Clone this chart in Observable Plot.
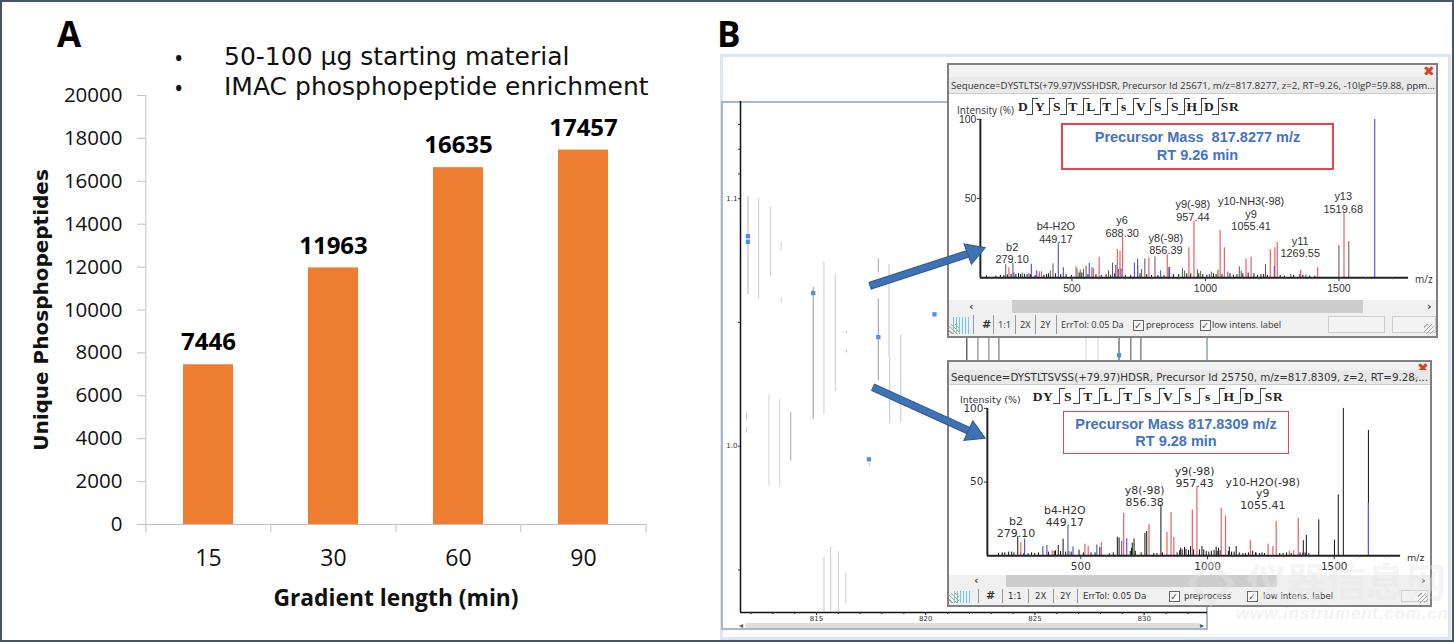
<!DOCTYPE html>
<html><head><meta charset="utf-8">
<script src="https://cdn.jsdelivr.net/npm/d3@7"></script>
<script src="https://cdn.jsdelivr.net/npm/@observablehq/plot@0.6"></script>
<style>
html,body{margin:0;padding:0;background:#fff;overflow:hidden}
#page{position:relative;width:1454px;height:642px;overflow:hidden;background:#fff;font-family:"Liberation Sans",sans-serif}
#page div{position:absolute;box-sizing:border-box;white-space:pre}
svg{display:block}
</style></head><body><div id="page"></div>
<script>
// ---------- Panel A ----------
const gradientLabels = ["15","30","60","90"];
const phosphopeptides = [7446,11963,16635,17457];
const countTicks = [0,2000,4000,6000,8000,10000,12000,14000,16000,18000,20000];

// ---------- Panel B : ion map ----------
const streakMz   = [811.86,812.35,812.89,813.38,813.38,814.85,815.34,815.86,816.37,816.37,817.83,817.83,818.32,818.35,818.86,811.8,811.8,812.82,813.31,813.82,815.34,815.65,816,816.34,817.42,821.88,822.39,822.89,823.35,827.34,827.89,828.85,829.39,829.85];
const streakLow  = [1.0613,1.0594,1.0685,1.0787,1.0578,1.011,1.0129,1.0221,1.0454,1.0377,1.07,1.0266,1.0358,1.0091,1.0099,1.0107,1.0053,0.9836,0.9836,0.9939,0.933,0.933,0.933,0.9364,0.9916,1.03,1.03,1.03,1.03,1.03,1.03,1.03,1.03,1.03];
const streakHigh = [1.1008,1.1,1.0967,1.0822,1.0601,1.0642,1.0746,1.0697,1.0464,1.0388,1.0758,1.0594,1.0734,1.0358,1.0449,1.0137,1.0076,1.021,1.019,1.0137,0.9551,0.9592,0.9574,0.9486,0.9932,1.05,1.05,1.05,1.05,1.05,1.05,1.05,1.05,1.05];
const streakGrey = ["#c4c4c4","#d4d4d4","#d4d4d4","#d4d4d4","#d4d4d4","#a8a8a8","#d4d4d4","#d4d4d4","#c4c4c4","#c4c4c4","#b4b4b4","#a8a8a8","#cfcfcf","#cfcfcf","#cfcfcf","#d4d4d4","#d4d4d4","#dadada","#dadada","#b8b8b8","#d4d4d4","#d4d4d4","#d4d4d4","#d4d4d4","#d4d4d4","#444","#888","#888","#777","#ddd","#ddd","#555","#666","#666"];
const featureMz  = [811.86,811.86,814.85,817.83,820.4,817.4,828.85];
const featureVal = [1.0849,1.0826,1.0619,1.0441,1.0533,0.9947,1.0368];
const mapXTicks  = [815,820,825,830];
const mapXMinor  = [812,813,814,815,816,817,818,819,820,821,822,823,824,825,826,827,828,829,830,831,832];
const mapYTicks  = [1.13,1.12,1.11,1.1,1.05,1.0,0.95];
const arrowFromMz = [817.43,817.57];
const arrowFromV  = [1.0648,1.0239];
const arrowHeadMz = [822.19,822.21];
const arrowHeadV  = [1.0785,1.0053];
const arrowTurn   = [70,114.5];

// ---------- Spectrum 1 ----------
const s1RedMz  = [264,378,386,515,581,602,670,680,690,788,857,938,957,1055,1071,1152,1171,1243,1260,1269,1357,1420,1519];
const s1RedInt = [6.3,3.8,3.8,6.9,5.7,13,17.8,16.8,25.6,12.4,14.5,18.9,35.6,29.8,18.9,11.9,13,17.8,18.9,22.2,4.8,6.3,40.5];
const s1BlueMz  = [283,348,368,449,468,565,664,684,734,746,832,863,1015,1258,1353,1376,1634];
const s1BlueInt = [3.1,8.6,4.4,21.6,6.3,9.2,7.8,5.7,9.2,7.8,4.4,6.5,2.1,7.1,2.1,1.7,100];
const s1BlackMz  = [252,279,314,339,419,429,519,531,543,553,575,637,652,674,746,761,773,811,866,914,922,970,982,1022,1047,1084,1127,1134,1225,1320,1500,1537];
const s1BlackInt = [8.2,9,2.9,2.5,4.2,8.8,5.7,4.8,5.2,7.3,6.3,4.4,9.2,5.2,11.9,5.2,11.9,13.2,6.5,5.9,4.2,5,4,3.6,4.8,3.6,6.9,4,8.2,2.1,20.3,22.8];
const s1NoiseMz  = [180,215,232,245,258,272,290,300,308,322,332,345,362,378,395,405,412,438,458,478,498,527,537,560,590,610,628,645,660,700,720,755,780,798,822,845,880,900,930,945,975,990,1005,1030,1040,1062,1092,1105,1118,1140,1160,1182,1195,1208,1218,1232,1280,1296,1330,1365,1390,1410];
const s1NoiseInt = [1.2,1,1.5,1.5,1.8,2,2,2.5,2,2.2,2,2,1.5,1.8,1.5,2,2.5,2.5,2,2,1.5,3,3,2,2,1.5,2,1.5,2.5,1.5,1.5,2.5,2,1.5,1.5,1.5,2,2,2.5,2.5,2.5,2,1.5,2.5,2,2,2.5,1.5,2,2.5,3,2.5,1.5,2,2,1.5,1.5,1,1.5,1.5,1,1];
const s1LabelMz   = [276,440,688,852,953,1171,1355,1516];
const s1LabelInt  = [9,22,25.8,14.7,36,30,12.8,40.9];
const s1LabelText = ["b2\n279.10","b4-H2O\n449.17","y6\n688.30","y8(-98)\n856.39","y9(-98)\n957.44","y10-NH3(-98)\ny9\n1055.41","y11\n1269.55","y13\n1519.68"];

// ---------- Spectrum 2 ----------
const s2RedMz  = [263,387,516,529,581,669,769,840,856,867,940,958,1054,1071,1169,1239,1258,1271,1358,1323,1340];
const s2RedInt = [9,3.4,7.9,6.3,9,28.9,21.4,16,29.3,12.4,31.1,46.9,32.3,27.1,10.6,7.9,6.3,23.2,25.5,2.9,3.4];
const s2BlueMz  = [278,350,366,449,469,563,661,681,453,1375,1635];
const s2BlueInt = [11.3,6.3,7,19.9,5.9,7.4,9.7,11.5,2.9,1.8,35.7];
const s2BlackMz  = [251,227,411,430,400,493,575,644,651,703,710,753,760,816,894,909,933,978,1034,1043,1086,1113,1191,1378,1390,1439,1501,1516,1536,1635];
const s2BlackInt = [13,2.5,7,11.3,3.4,3.8,5.6,12.6,12,8.6,11.3,15.3,16.5,34.5,5.2,5.6,6.3,6.3,5.9,5.2,5.9,6.3,1.8,10.2,13.8,24.4,10.6,41.3,100,85.1];
const s2NoiseMz  = [175,190,200,215,236,262,275,292,305,318,333,372,395,420,440,462,510,540,556,612,628,695,700,715,738,788,800,822,880,890,900,915,925,945,968,985,995,1005,1015,1026,1038,1050,1082,1095,1105,1125,1140,1150,1162,1178,1190,1205,1215,1225,1285,1298,1312,1330,1365,1385,1400];
const s2NoiseInt = [1.5,2,2,2.5,2,2,1.5,1.5,2,1.5,2,2.5,3,3,2.5,2.5,2,2,2,1.5,2,3,5,3,2,1.5,1.5,2,2,3.5,4,4.5,3.5,4,4,4,3,2.5,3,3.5,3,3.5,3,2.5,2.5,2,1.5,1.5,2,3,2,1.5,2,1.5,1.5,1.5,2,1.5,2,2,1.5];
const s2LabelMz   = [244,437,752,949,1218];
const s2LabelInt  = [13,20.3,34,47,32];
const s2LabelText = ["b2\n279.10","b4-H2O\n449.17","y8(-98)\n856.38","y9(-98)\n957.43","y10-H2O(-98)\ny9\n1055.41"];

const mzTicks = [500,1000,1500];
const mzMinor = [200,300,400,600,700,800,900,1100,1200,1300,1400,1600,1700];

const page = document.getElementById("page");
function el(l,t,w,h,css,text,parent){
  const d=document.createElement("div");
  d.style.cssText=`left:${l}px;top:${t}px;`+(w!=null?`width:${w}px;`:"")+(h!=null?`height:${h}px;`:"")+(css||"");
  if(text!=null)d.textContent=text;
  (parent||page).appendChild(d);return d;
}
function place(plot,l,t,z){const d=el(l,t,null,null,z?`z-index:${z};`:"");d.appendChild(plot);return d;}

// ---------- Panel A chart ----------
const bandStep = 501/4;
const cats = gradientLabels.map((g,i)=>({g,v:phosphopeptides[i]}));
const chartA = Plot.plot({
  width:700,height:642,marginLeft:145,marginRight:54,marginTop:95,marginBottom:118,
  style:{fontFamily:"Open Sans",fontSize:"20.5px",background:"transparent",overflow:"visible"},
  x:{type:"band",domain:gradientLabels,paddingInner:0.6,paddingOuter:0.3,label:null},
  y:{domain:[0,20000],label:null},
  marks:[
    Plot.barY(cats,{x:"g",y:"v",fill:"#ed7d31"}),
    Plot.ruleY([0],{stroke:"#bfbfbf"}),
    Plot.ruleX(gradientLabels.slice(0,1),{x:d=>d,dx:-bandStep/2,y1:0,y2:20000,stroke:"#bfbfbf"}),
    Plot.ruleX(gradientLabels,{x:d=>d,dx:-bandStep/2,y1:0,y2:-373,stroke:"#bfbfbf"}),
    Plot.ruleX(gradientLabels.slice(-1),{x:d=>d,dx:bandStep/2,y1:0,y2:-373,stroke:"#bfbfbf"}),
    Plot.axisY({ticks:countTicks,tickSize:8,tickPadding:15,stroke:"#bfbfbf",color:"#111",strokeOpacity:1,tickFormat:d=>String(d),label:null,fill:"#111"}),
    Plot.axisX({tickSize:0,tickPadding:25,color:"#111",label:null,fontSize:23}),
    Plot.text(cats,{x:"g",y:"v",text:d=>String(d.v),dy:-22,fontWeight:"bold",fontSize:24,fill:"#000"})
  ]
});
place(chartA,0,0);
el(57,14,null,null,'font:bold 35px/40px "Open Sans";color:#000',"A");
el(717,14,null,null,'font:bold 35px/40px "Open Sans";color:#000',"B");
el(174,39,null,null,'font:25px/36px "Open Sans";color:#111',"•");
el(174,69,null,null,'font:25px/36px "Open Sans";color:#111',"•");
el(224,39,null,null,'font:25px/36px "DejaVu Sans";color:#111',"50-100 µg starting material");
el(224,69,null,null,'font:25px/36px "DejaVu Sans";color:#111',"IMAC phosphopeptide enrichment");
el(41,310,null,null,'font:bold 20px/24px "DejaVu Sans";color:#111;transform:translate(-50%,-50%) rotate(-90deg)',"Unique Phosphopeptides");
el(396,598,null,null,'font:bold 22.8px/28px "Open Sans";color:#111;transform:translate(-50%,-50%)',"Gradient length (min)");

// ---------- Panel B frame ----------
el(720,54,731,586,"border:3px solid #dce6f0;background:#fff");
el(721,101,487,529,"border:2px solid #a9b8c6;background:#fff");

// ---------- Ion map ----------
const mapW=487,mapH=529,mapML=19,mapMR=1,mapMT=0,mapMB=18;
const mapDomX=[811.52,832.9],mapDomY=[0.9328,1.1393];
const mapX={domain:mapDomX,label:null},mapY={domain:mapDomY,label:null};
const streaks=streakMz.map((m,i)=>({m,a:streakLow[i],b:streakHigh[i],g:streakGrey[i]}));
const features=featureMz.map((m,i)=>({m,v:featureVal[i]}));
const mapChart=Plot.plot({
  width:mapW,height:mapH,marginLeft:mapML,marginRight:mapMR,marginTop:mapMT,marginBottom:mapMB,
  style:{fontFamily:"DejaVu Sans",fontSize:"7px",background:"transparent",overflow:"visible"},
  x:mapX,y:mapY,
  marks:[
    Plot.ruleX(streaks,{x:"m",y1:"a",y2:"b",stroke:"g",strokeWidth:1.2}),
    Plot.dot(features,{x:"m",y:"v",symbol:"square",r:2.4,fill:"#4a90e8"}),
    Plot.ruleY([mapDomY[0]],{stroke:"#111",strokeWidth:1.5}),
    Plot.ruleX([mapDomX[0]],{stroke:"#111",strokeWidth:1.5}),
    Plot.axisX({ticks:mapXMinor,tickSize:2,tickFormat:()=>"",color:"#222",label:null}),
    Plot.axisX({ticks:mapXTicks,tickSize:3,tickPadding:1,tickFormat:d=>String(d),color:"#333",label:null}),
    Plot.axisY({ticks:mapYTicks,tickSize:2,tickPadding:1,tickFormat:d=>(d===1.1||d===1)?d.toFixed(1):"",color:"#333",label:null})
  ]
});
place(mapChart,721,101);
// map scrollbar
el(745,623,455,5,"background:#dcdcdc;border-radius:2px");
el(739,621,null,null,'font:8px/9px "DejaVu Sans";color:#555',"◂");
el(1200,621,null,null,'font:8px/9px "DejaVu Sans";color:#555',"▸");

// ---------- Spectrum windows ----------
function spectrum(o){
  const W=o.right-o.left, H=o.plotBottom-o.plotTop;
  const win=el(o.left,o.top,W,o.bottom-o.top,"border:2px solid #808080;background:#fff;z-index:3");
  const ox=o.left+2, oy=o.top+2, G=(l,t,w,h,c,tx)=>el(l-ox,t-oy,w,h,c,tx,win);
  G(ox,oy,W-4,o.titleH,"background:#f2f2f2");
  G(o.right-15,o.top+1,null,null,'font:bold 14px/14px "DejaVu Sans";color:#d8431e',"✖");
  G(ox,o.seqTop,W-4,o.seqH,"background:#e9e9e9;border-bottom:1px solid #ccc");
  G(ox+2,o.seqTop,null,o.seqH,`font:${o.seqFont};line-height:${o.seqH}px;color:#333`,o.seq);
  G(o.right-22,o.seqTop,null,o.seqH,`font:9px/${o.seqH}px "DejaVu Sans";color:#666;transform:scaleX(1.4)`,"⌵");
  G(o.intensityX,o.intensityY,null,null,`font:${o.smallFont};line-height:13px;color:#333`,"Intensity (%)");
  o.residues.forEach((r,i)=>G(o.residueX[i],o.residueY,null,null,'font:bold 13.5px/16px "Liberation Serif";color:#222;letter-spacing:.5px;transform:translateX(-50%)',r));
  o.cutX.forEach(x=>{
    G(x,o.residueY-1,1,o.cutH,"background:#444");
    G(x,o.residueY-1,6,1,"background:#444");
    G(x-6,o.residueY-1+o.cutH-1,6,1,"background:#444");
  });
  G(o.box[0],o.box[1],o.box[2]-o.box[0],o.box[3]-o.box[1],`border:${o.boxBorder} solid #e8434f`);
  o.boxLines.forEach((t,i)=>G((o.box[0]+o.box[2])/2,o.boxY[i],null,null,'font:bold 14.5px/18px "Liberation Sans";color:#4472c4;transform:translateX(-50%)',t));
  // toolbar
  G(ox,o.scrollTop,W-4,o.bottom-o.scrollTop-2,"background:#f0f0f0");
  G(o.thumb[0],o.scrollTop,o.thumb[1]-o.thumb[0],o.scrollH,"background:#cdcdcd");
  G(o.arrowL,o.scrollTop,null,o.scrollH,`font:bold 11px/${o.scrollH}px "DejaVu Sans";color:#444`,"‹");
  G(o.arrowR,o.scrollTop,null,o.scrollH,`font:bold 11px/${o.scrollH}px "DejaVu Sans";color:#444`,"›");
  const ty=o.scrollTop+o.scrollH, th=o.bottom-2-ty;
  G(o.icon,ty+4,18,th-6,"background:repeating-linear-gradient(90deg,#7cc4dd 0 1px,#e8f4f8 1px 3px)");
  o.seps.forEach(x=>G(x,ty+2,1,th-4,"background:#999"));
  o.tools.forEach(([x,t,f])=>G(x,ty,null,th,`font:${f||o.toolFont};line-height:${th}px;color:#333`,t));
  o.checks.forEach(x=>{
    G(x,ty+th/2-5,11,11,"border:1px solid #666;background:#fff");
    G(x+1,ty+th/2-5,null,null,'font:10px/11px "DejaVu Sans";color:#555',"✓");
  });
  o.inputs.forEach(([a,b])=>G(a,ty+3,b-a,th-6,"border:1px solid #ccc;background:#f4f4f4"));
  G(o.right-14,o.bottom-14,10,10,"background:repeating-linear-gradient(135deg,transparent 0 2px,#aaa 2px 3px)");
  G(ox,o.bottom-14,10,10,"background:repeating-linear-gradient(45deg,transparent 0 2px,#aaa 2px 3px)");

  const rows=(m,v,c,sw)=>m.map((x,i)=>({x,y:v[i],c,sw}));
  const peaks=[...rows(o.noise[0],o.noise[1],"#111",1),...rows(o.black[0],o.black[1],o.blackColor,1),...rows(o.red[0],o.red[1],"#ea5f66",1.2),...rows(o.blue[0],o.blue[1],"#5a5ad8",1.2)];
  const labels=o.labels[0].map((x,i)=>({x,y:o.labels[1][i],t:o.labels[2][i]}));
  const chart=Plot.plot({
    width:W,height:H,marginLeft:o.axisX0-o.left,marginRight:o.right-o.axisX1,marginTop:o.y100-o.plotTop,marginBottom:o.plotBottom-o.y0,
    style:{fontFamily:o.labelFamily,fontSize:o.tickFontSize,background:"transparent",overflow:"visible"},
    x:{domain:o.domain,label:null},y:{domain:[0,100],label:null},
    marks:[
      Plot.ruleX(peaks,{x:"x",y1:0,y2:"y",stroke:"c",strokeWidth:"sw"}),
      Plot.ruleY([0],{stroke:"#222",strokeWidth:2}),
      Plot.ruleX([o.domain[0]],{y1:0,y2:100,stroke:"#222",strokeWidth:2}),
      Plot.axisX({ticks:mzMinor,tickSize:2,tickFormat:()=>"",color:"#555",label:null}),
      Plot.axisX({ticks:mzTicks,tickSize:4,tickPadding:3,tickFormat:d=>String(d),color:"#333",label:null}),
      Plot.axisY({ticks:[50,100],tickSize:3,tickPadding:1,tickFormat:d=>String(d),color:"#333",label:null}),
      Plot.text(labels,{x:"x",y:"y",text:"t",lineAnchor:"bottom",lineHeight:o.labelLine,fill:"#333",fontSize:o.labelSize,fontFamily:o.labelFamily})
    ]
  });
  const holder=G(o.left,o.plotTop,null,null,"");
  holder.appendChild(chart);
  G(o.axisX1+5,o.y0-5,null,null,`font:${o.smallFont};line-height:13px;color:#333`,"m/z");
}

spectrum({
  left:947,right:1438,top:63,bottom:338,titleH:12,seqTop:77,seqH:17,
  seq:"Sequence=DYSTLTS(+79.97)VSSHDSR, Precursor Id 25671, m/z=817.8277, z=2, RT=9.26, -10lgP=59.88, ppm...",
  seqFont:'9.7px "Open Sans"',smallFont:'10px "Open Sans"',toolFont:'9.2px "Open Sans"',boxBorder:"2px",
  intensityX:957,intensityY:104,
  residues:["D","Y","S","T","L","T","s","V","S","S","H","D","SR"],
  residueX:[1023,1040,1057,1073,1091,1107,1124,1141,1158,1175,1192,1209,1230],residueY:99,
  cutX:[1032,1049,1066,1083,1100,1117,1133,1150,1167,1184,1201,1218],cutH:17,
  box:[1061,123,1334,170],boxLines:["Precursor Mass  817.8277 m/z","RT 9.26 min"],boxY:[128,146],
  plotTop:94,plotBottom:300,y100:119,y0:278,axisX0:980,axisX1:1410,domain:[157,1761],
  tickFontSize:"10.5px",labelFamily:"Liberation Sans",labelSize:11,labelLine:1.15,blackColor:"#555",
  scrollTop:300,scrollH:13,thumb:[1012,1363],arrowL:969,arrowR:1427,
  icon:953,seps:[973,993,1015,1035,1056],
  tools:[[982,"#",'bold 11px "DejaVu Sans"'],[998,"1:1"],[1020,"2X"],[1040,"2Y"],[1061,"ErrTol: 0.05 Da"],[1146,"preprocess"],[1212,"low intens. label"]],
  checks:[1133,1200],inputs:[[1328,1385],[1392,1436]],
  red:[s1RedMz,s1RedInt],blue:[s1BlueMz,s1BlueInt],black:[s1BlackMz,s1BlackInt],noise:[s1NoiseMz,s1NoiseInt],
  labels:[s1LabelMz,s1LabelInt,s1LabelText]
});
spectrum({
  left:947,right:1432,top:360,bottom:607,titleH:9,seqTop:370,seqH:15,
  seq:"Sequence=DYSTLTSVSS(+79.97)HDSR, Precursor Id 25750, m/z=817.8309, z=2, RT=9.28,...",
  seqFont:'10.3px "DejaVu Sans"',smallFont:'9.5px "DejaVu Sans"',toolFont:'8.6px "DejaVu Sans"',boxBorder:"1px",
  intensityX:960,intensityY:393,
  residues:["DY","S","T","L","T","S","V","S","s","H","D","SR"],
  residueX:[1043,1068,1088,1108,1128,1148,1168,1188,1208,1229,1249,1274],residueY:389,
  cutX:[1059,1079,1099,1119,1139,1159,1179,1199,1219,1240,1260],cutH:16,
  box:[1063,411,1289,454],boxLines:["Precursor Mass 817.8309 m/z","RT 9.28 min"],boxY:[415,432],
  plotTop:385,plotBottom:575,y100:408,y0:556,axisX0:987,axisX1:1402,domain:[131,1762],
  tickFontSize:"10.5px",labelFamily:"DejaVu Sans",labelSize:11,labelLine:1.05,blackColor:"#111",
  scrollTop:575,scrollH:12,thumb:[1006,1277],arrowL:974,arrowR:1421,
  icon:954,seps:[978,1002,1028,1053,1077],
  tools:[[986,"#",'bold 11px "DejaVu Sans"'],[1008,"1:1"],[1035,"2X"],[1060,"2Y"],[1083,"ErrTol: 0.05 Da"],[1184,"preprocess"],[1263,"low intens. label"]],
  checks:[1169,1247],inputs:[[1401,1428]],
  red:[s2RedMz,s2RedInt],blue:[s2BlueMz,s2BlueInt],black:[s2BlackMz,s2BlackInt],noise:[s2NoiseMz,s2NoiseInt],
  labels:[s2LabelMz,s2LabelInt,s2LabelText]
});

// ---------- Arrows over the windows, in the ion map's own scales ----------
const arrows=arrowFromMz.map((m,i)=>({x1:m,y1:arrowFromV[i],x2:arrowHeadMz[i],y2:arrowHeadV[i],turn:arrowTurn[i]}));
const overlay=Plot.plot({
  width:mapW,height:mapH,marginLeft:mapML,marginRight:mapMR,marginTop:mapMT,marginBottom:mapMB,
  style:{background:"transparent",overflow:"visible"},
  x:{...mapX,axis:null},y:{...mapY,axis:null},
  marks:[
    Plot.link(arrows,{x1:"x1",y1:"y1",x2:"x2",y2:"y2",stroke:"#2f5a90",strokeWidth:8,strokeLinecap:"butt"}),
    Plot.link(arrows,{x1:"x1",y1:"y1",x2:"x2",y2:"y2",stroke:"#3f72b4",strokeWidth:6,strokeLinecap:"butt"}),
    Plot.dot(arrows,{x:"x2",y:"y2",symbol:"triangle",r:8,rotate:"turn",fill:"#3f72b4",stroke:"#2f5a90",strokeWidth:1})
  ]
});
place(overlay,721,101,5);

// ---------- Watermark ----------
el(1194,566,34,34,"border:5px solid rgba(225,225,225,.4);transform:rotate(45deg);z-index:6");
el(1246,558,null,null,'font:bold 40px/44px "Noto Sans CJK SC";color:rgba(232,232,232,.42);z-index:6',"仪器信息网");
el(1236,604,null,null,'font:italic bold 17px/20px "Liberation Sans";letter-spacing:.8px;color:rgba(238,238,238,.7);z-index:6',"www.instrument.com.cn");

// ---------- Outer border ----------
el(0,0,1454,642,"border:2px solid #44546a;border-right-width:2.5px;z-index:8;pointer-events:none");
</script></body></html>
